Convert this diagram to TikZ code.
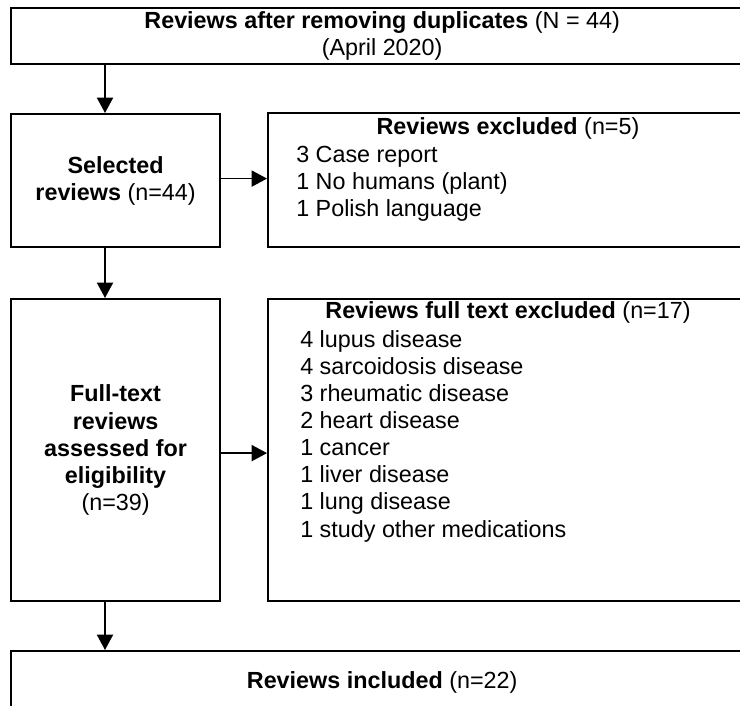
\documentclass[tikz,border=0pt]{standalone}
\usepackage{fontspec}
\setmainfont{Liberation Sans}
\usepackage{tikz}
\usetikzlibrary{calc,arrows.meta}

\begin{document}
\begin{tikzpicture}[x=0.025cm,y=-0.025cm,
    box/.style={draw,line width=1.5pt,inner sep=0pt,anchor=north west,align=center,
      font=\fontsize{16.6}{19.3}\selectfont},
    txt/.style={inner sep=0pt,font=\fontsize{16.6}{19.3}\selectfont},
    arr/.style={line width=1.2pt,-{Triangle[length=11pt,width=11.5pt]}}]
  \useasboundingbox (0,0) rectangle (740,705);
  \clip (0,0) rectangle (740,705);
  \node[box,minimum width=18.55cm,minimum height=1.4cm] (dup) at (10,7)
    {\textbf{Reviews after removing duplicates} (N = 44)\\(April 2020)};
  \node[box,minimum width=5.225cm,minimum height=3.325cm] (sel) at (10,113)
    {\textbf{Selected}\\\textbf{reviews} (n=44)};
  \node[box,minimum width=12.05cm,minimum height=3.35cm] (exa) at (267,112) {};
  \node[box,minimum width=5.225cm,minimum height=7.55cm] (full) at (10,298)
    {\textbf{Full-text}\\\textbf{reviews}\\\textbf{assessed for}\\\textbf{eligibility}\\(n=39)};
  \node[box,minimum width=12.05cm,minimum height=7.55cm] (exb) at (267,298) {};
  \node[box,minimum width=18.55cm,minimum height=1.55cm] (inc) at (10,650)
    {\textbf{Reviews included} (n=22)};

  \node[txt] (exatitle) at (508,128) {\textbf{Reviews excluded} (n=5)};
  \node[txt,align=left,anchor=west] (exalist) at (296,184)
    {3 Case report\\1 No humans (plant)\\1 Polish language};
  \node[txt] (exbtitle) at (508,312) {\textbf{Reviews full text excluded} (n=17)};
  \node[txt,align=left,anchor=west] (exblist) at (300,436)
    {4 lupus disease\\4 sarcoidosis disease\\3 rheumatic disease\\2 heart disease\\
     1 cancer\\1 liver disease\\1 lung disease\\1 study other medications};

  \coordinate (ax) at (105,0);
  \draw[arr] (dup.south -| ax) -- (sel.north -| ax);
  \draw[arr] (sel.south -| ax) -- (full.north -| ax);
  \draw[arr] (full.south -| ax) -- (inc.north -| ax);
  \draw[arr] ($(sel.east)+(0,-2)$) -- ($(sel.east -| exa.west)+(0,-2)$);
  \draw[arr] ($(full.east)+(0,3)$) -- ($(full.east -| exb.west)+(0,3)$);
\end{tikzpicture}
\end{document}
